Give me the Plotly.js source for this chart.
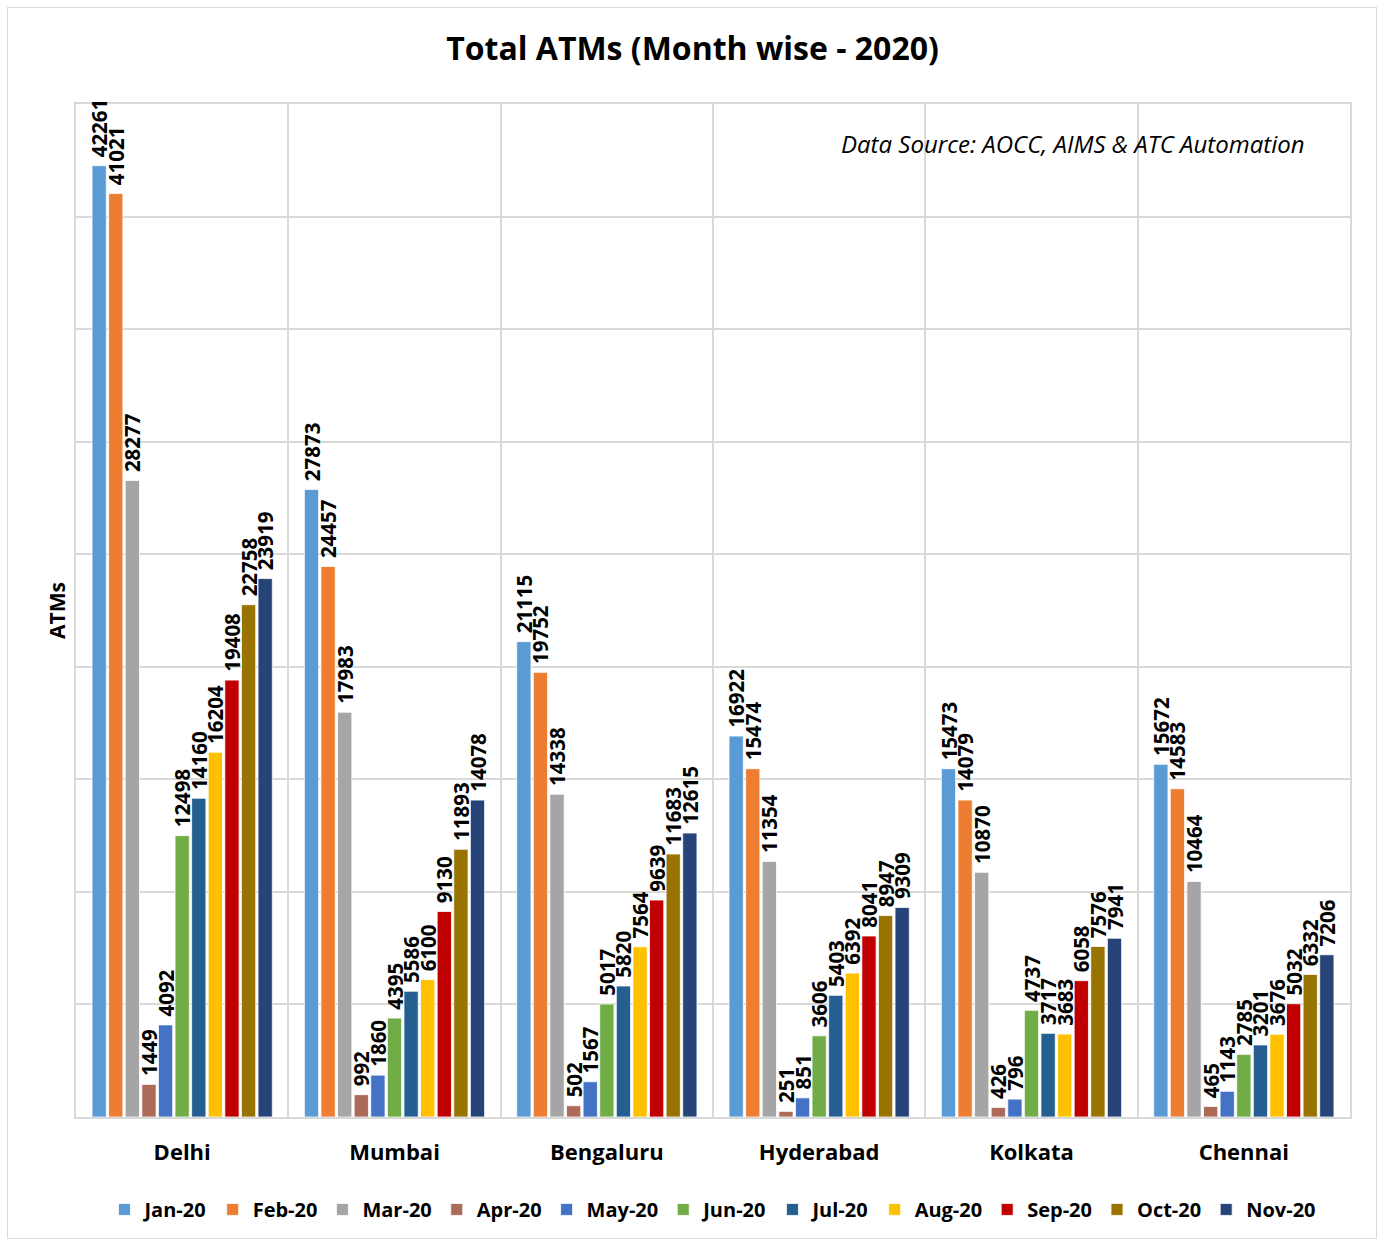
<!DOCTYPE html>
<html>
<head>
<meta charset="utf-8">
<script src="https://cdn.plot.ly/plotly-3.0.1.min.js"></script>
<style>
  html, body { margin: 0; padding: 0; background: #fff; }
  #frame { position: absolute; left: 7px; top: 7px; width: 1370px; height: 1232px; border: 1px solid #d9d9d9; box-sizing: border-box; }
  #chart { position: absolute; left: 0; top: 0; width: 1385px; height: 1247px; }
</style>
</head>
<body>
<div id="frame"></div>
<div id="chart"></div>
<script>
const cities = ["Delhi", "Mumbai", "Bengaluru", "Hyderabad", "Kolkata", "Chennai"];
const months = ["Jan-20", "Feb-20", "Mar-20", "Apr-20", "May-20", "Jun-20", "Jul-20", "Aug-20", "Sep-20", "Oct-20", "Nov-20"];

const jan20 = [42261, 27873, 21115, 16922, 15473, 15672];
const feb20 = [41021, 24457, 19752, 15474, 14079, 14583];
const mar20 = [28277, 17983, 14338, 11354, 10870, 10464];
const apr20 = [1449, 992, 502, 251, 426, 465];
const may20 = [4092, 1860, 1567, 851, 796, 1143];
const jun20 = [12498, 4395, 5017, 3606, 4737, 2785];
const jul20 = [14160, 5586, 5820, 5403, 3717, 3201];
const aug20 = [16204, 6100, 7564, 6392, 3683, 3676];
const sep20 = [19408, 9130, 9639, 8041, 6058, 5032];
const oct20 = [22758, 11893, 11683, 8947, 7576, 6332];
const nov20 = [23919, 14078, 12615, 9309, 7941, 7206];

const seriesValues = [jan20, feb20, mar20, apr20, may20, jun20, jul20, aug20, sep20, oct20, nov20];
const colors = ["#5B9BD5", "#ED7D31", "#A5A5A5", "#AC6A58", "#4472C4", "#70AD47", "#255E91", "#FFC000", "#C00000", "#997300", "#264478"];

const FONT = '"Open Sans", sans-serif';

const traces = months.map((m, i) => ({
  type: "bar",
  name: m,
  x: cities,
  y: seriesValues[i],
  marker: { color: colors[i], line: { color: "#ffffff", width: 0.8 } },
  text: seriesValues[i].map(v => "\u00a0" + v),
  textposition: "outside",
  textangle: -90,
  constraintext: "none",
  cliponaxis: false,
  textfont: { family: FONT, size: 20.5, color: "#000", weight: "bold" },
  hoverinfo: "x+y+name"
}));

const layout = {
  width: 1385,
  height: 1247,
  paper_bgcolor: "rgba(0,0,0,0)",
  plot_bgcolor: "#fff",
  margin: { l: 76, r: 35, t: 104, b: 130 },
  font: { family: FONT, color: "#000" },
  title: {
    text: "<b>Total ATMs (Month wise - 2020)</b>",
    font: { family: FONT, size: 32, color: "#000" },
    x: 0.5, xanchor: "center", y: 0.961, yanchor: "middle"
  },
  barmode: "group",
  bargap: 0.14,
  bargroupgap: 0.14,
  xaxis: {
    type: "category",
    tickson: "boundaries",
    layer: "below traces",
    showgrid: true,
    gridcolor: "#d9d9d9",
    gridwidth: 1.5,
    showline: true,
    linecolor: "#d9d9d9",
    linewidth: 1.5,
    mirror: true,
    ticks: "",
    tickfont: { family: FONT, size: 22, color: "#000", weight: "bold" },
    ticklabelstandoff: 15
  },
  yaxis: {
    range: [0, 45000],
    dtick: 5000,
    layer: "below traces",
    showticklabels: false,
    showgrid: true,
    gridcolor: "#d9d9d9",
    gridwidth: 1.5,
    zeroline: false,
    showline: true,
    linecolor: "#d9d9d9",
    linewidth: 1.5,
    mirror: true,
    ticks: "",
    title: { text: "<b>ATMs</b>", font: { family: FONT, size: 21, color: "#000" }, standoff: 3 }
  },
  legend: {
    orientation: "h",
    x: 0.5, xanchor: "center",
    y: -0.072, yanchor: "top",
    font: { family: FONT, size: 20, color: "#000", weight: "bold" },
    itemwidth: 30,
    tracegroupgap: 0,
    traceorder: "normal"
  },
  annotations: [{
    xref: "paper", yref: "paper",
    x: 0.966, y: 0.961, xanchor: "right", yanchor: "middle",
    text: "<i>Data Source: AOCC, AIMS &amp; ATC Automation</i>",
    showarrow: false,
    font: { family: FONT, size: 24, color: "#000" }
  }]
};

Plotly.newPlot("chart", traces, layout, { displayModeBar: false, responsive: false });
</script>
</body>
</html>
